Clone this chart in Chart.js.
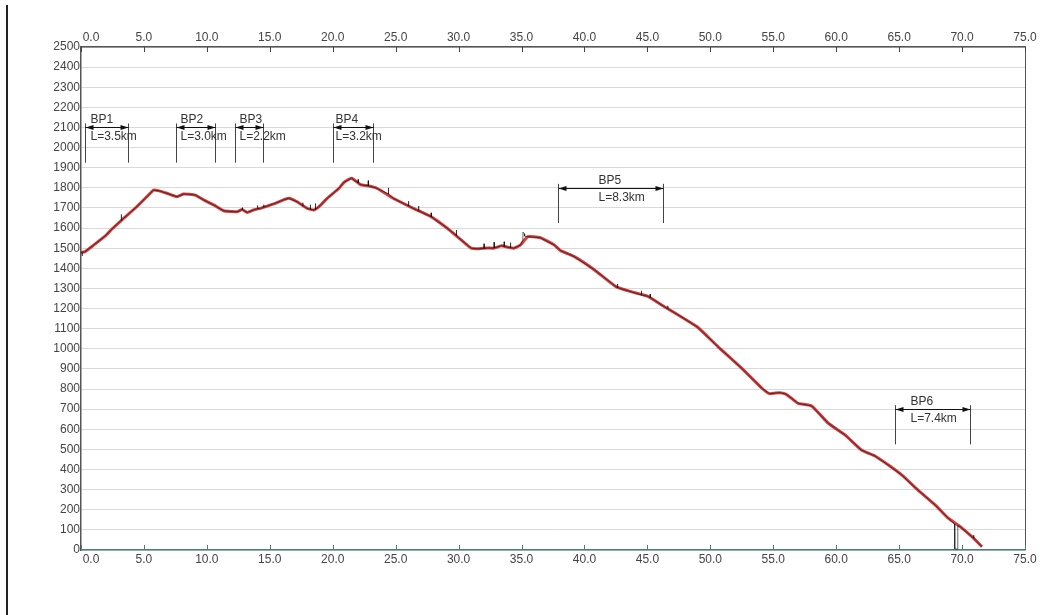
<!DOCTYPE html>
<html>
<head>
<meta charset="utf-8">
<script src="https://cdn.jsdelivr.net/npm/chart.js@4.4.1/dist/chart.umd.min.js"></script>
<style>
  html, body { margin: 0; padding: 0; background: #fff; }
  #wrap { position: relative; width: 1052px; height: 615px; }
</style>
</head>
<body>
<div id="wrap"><canvas id="c" width="1052" height="615"></canvas></div>
<script>
// ---- data (km, elevation m) ----
const profileKm = [0.0,0.3,1.0,2.0,2.44,3.24,4.43,5.3,5.76,6.2,6.82,7.62,8.15,8.6,9.08,9.74,10.54,11.33,12.0,12.4,12.8,13.2,13.7,14.25,15.3,16.0,16.5,17.17,17.97,18.5,19.0,19.56,20.5,20.9,21.5,22.2,22.8,23.5,24.8,26.4,27.8,29.1,30.2,31.0,31.6,32.3,32.8,33.4,33.9,34.4,34.9,35.5,36.5,37.6,38.1,39.2,40.8,42.5,43.7,45.0,46.35,47.9,49.0,50.6,52.5,54.1,54.7,55.5,56.0,56.45,56.98,58.05,59.37,60.7,62.0,63.08,64.15,65.2,66.5,67.86,68.9,69.85,70.78,71.58];
const profileElev = [1480,1482,1515,1565,1594,1640,1706,1760,1789,1785,1773,1756,1769,1768,1764,1740,1715,1686,1682,1681,1692,1678,1690,1698,1720,1738,1748,1731,1698,1690,1712,1748,1798,1828,1848,1816,1810,1798,1748,1698,1657,1599,1541,1500,1497,1501,1500,1512,1505,1500,1515,1557,1552,1516,1488,1458,1392,1309,1284,1262,1209,1151,1107,1011,903,804,777,782,775,754,729,716,630,572,497,467,422,373,298,224,158,116,66,16];

// raw measured profile (black), with its spikes
const rawKm = [0.0,0.08,0.1,0.12,0.3,1.0,2.0,2.44,3.18,3.2,3.22,4.43,5.3,5.76,6.2,6.82,7.62,8.15,8.6,9.08,9.74,10.54,11.33,12.0,12.4,12.8,12.82,12.84,13.2,13.7,14.0,14.02,14.04,14.25,14.5,14.52,14.54,15.3,16.0,16.5,17.17,17.6,17.62,17.64,17.97,18.2,18.22,18.24,18.5,18.6,18.62,18.64,19.0,19.56,20.5,20.9,21.5,22.0,22.02,22.04,22.2,22.8,22.82,22.84,23.5,24.4,24.42,24.44,24.8,26.0,26.02,26.04,26.4,26.8,26.82,26.84,27.8,27.82,27.84,29.1,29.8,29.82,29.84,30.2,31.0,31.6,32.0,32.02,32.04,32.3,32.8,32.82,32.84,33.4,33.6,33.62,33.64,33.9,34.1,34.12,34.14,34.4,34.9,35.1,35.12,35.2,35.25,35.5,36.5,37.6,38.1,39.2,40.8,42.5,42.6,42.62,42.64,43.7,44.5,44.52,44.54,45.0,45.2,45.22,45.24,46.35,46.6,46.62,46.64,47.9,49.0,50.6,52.5,54.1,54.7,55.5,56.0,56.45,56.98,58.05,59.37,60.7,62.0,63.08,64.15,65.2,66.5,67.86,68.9,69.4,69.42,69.64,69.66,69.85,70.78,70.9,70.92,70.94,71.58];
const rawElev = [1480,1478,1462,1479,1482,1515,1565,1594,1637,1668,1639,1706,1760,1789,1785,1773,1756,1769,1768,1764,1740,1715,1686,1682,1681,1692,1702,1691,1678,1690,1695,1712,1696,1698,1703,1716,1704,1720,1738,1748,1731,1712,1726,1711,1698,1694,1716,1693,1690,1692,1722,1693,1712,1748,1798,1828,1848,1825,1842,1824,1816,1810,1836,1809,1798,1770,1800,1769,1748,1711,1734,1710,1698,1686,1710,1685,1657,1676,1656,1599,1564,1590,1562,1541,1500,1497,1499,1522,1499,1501,1500,1530,1501,1512,1509,1532,1508,1505,1502,1528,1502,1500,1515,1540,1580,1572,1560,1557,1552,1516,1488,1458,1392,1309,1305,1322,1304,1284,1268,1288,1267,1262,1255,1272,1254,1209,1199,1214,1198,1151,1107,1011,903,804,777,782,775,754,729,716,630,572,497,467,422,373,298,224,158,130,5,5,122,116,66,60,74,59,16];

// x axis tick labels (km) and y ticks
const xTickValues = [0,5,10,15,20,25,30,35,40,45,50,55,60,65,70,75];
const yTickValues = [0,100,200,300,400,500,600,700,800,900,1000,1100,1200,1300,1400,1500,1600,1700,1800,1900,2000,2100,2200,2300,2400,2500];

// break-point sections
const bpNames   = ['BP1','BP2','BP3','BP4','BP5','BP6'];
const bpLengths = ['L=3.5km','L=3.0km','L=2.2km','L=3.2km','L=8.3km','L=7.4km'];
const bpStartKm = [0.32, 7.56, 12.2, 20.0, 37.9, 64.7];
const bpEndKm   = [3.77, 10.67, 14.47, 23.2, 46.2, 70.6];
const bpLevel   = [2100, 2100, 2100, 2100, 1800, 700];

const FONT = '"Liberation Sans", Arial, Helvetica, sans-serif';

const toPts = (xs, ys) => xs.map((x, i) => ({ x: x, y: ys[i] }));

const decor = {
  id: 'decor',
  beforeDraw(chart) {
    const ctx = chart.ctx;
    ctx.save();
    ctx.fillStyle = '#fff';
    ctx.fillRect(0, 0, chart.width, chart.height);
    ctx.fillStyle = '#222';
    ctx.fillRect(6, 5, 2, chart.height - 5);
    ctx.restore();
  },
  afterDatasetsDraw(chart) {
    const ctx = chart.ctx;
    const xs = chart.scales.x, ys = chart.scales.y, xt = chart.scales.x2;
    const a = chart.chartArea;
    ctx.save();
    // right border
    ctx.strokeStyle = '#555';
    ctx.lineWidth = 1;
    ctx.beginPath();
    ctx.moveTo(Math.round(a.right) + 0.5, a.top);
    ctx.lineTo(Math.round(a.right) + 0.5, a.bottom);
    ctx.stroke();
    // inner ticks
    xs.ticks.forEach(t => {
      const px = Math.round(xs.getPixelForValue(t.value)) + 0.5;
      ctx.strokeStyle = '#4f7f74';
      ctx.beginPath(); ctx.moveTo(px, a.bottom); ctx.lineTo(px, a.bottom - 5); ctx.stroke();
    });
    xt.ticks.forEach(t => {
      const px = Math.round(xt.getPixelForValue(t.value)) + 0.5;
      ctx.strokeStyle = '#444';
      ctx.beginPath(); ctx.moveTo(px, a.top); ctx.lineTo(px, a.top + 5); ctx.stroke();
    });
    // BP brackets
    const labelOffsetPx = [5, 4, 4, 2, 40, 15];
    ctx.font = '12px ' + FONT;
    ctx.textBaseline = 'middle';
    ctx.textAlign = 'left';
    for (let i = 0; i < bpNames.length; i++) {
      const x1 = Math.round(xs.getPixelForValue(bpStartKm[i])) + 0.5;
      const x2 = Math.round(xs.getPixelForValue(bpEndKm[i])) + 0.5;
      const yl = Math.round(ys.getPixelForValue(bpLevel[i])) + 0.5;
      const yTop = ys.getPixelForValue(bpLevel[i] + 20);
      const yBot = ys.getPixelForValue(bpLevel[i] - 175);
      ctx.strokeStyle = '#444';
      ctx.lineWidth = 1;
      ctx.beginPath();
      ctx.moveTo(x1, yTop); ctx.lineTo(x1, yBot);
      ctx.moveTo(x2, yTop); ctx.lineTo(x2, yBot);
      ctx.stroke();
      ctx.strokeStyle = '#111';
      ctx.beginPath(); ctx.moveTo(x1, yl); ctx.lineTo(x2, yl); ctx.stroke();
      ctx.fillStyle = '#111';
      ctx.beginPath();
      ctx.moveTo(x1, yl); ctx.lineTo(x1 + 8, yl - 2.5); ctx.lineTo(x1 + 8, yl + 2.5); ctx.closePath(); ctx.fill();
      ctx.beginPath();
      ctx.moveTo(x2, yl); ctx.lineTo(x2 - 8, yl - 2.5); ctx.lineTo(x2 - 8, yl + 2.5); ctx.closePath(); ctx.fill();
      ctx.fillStyle = '#333';
      ctx.fillText(bpNames[i], x1 + labelOffsetPx[i], yl - 8);
      ctx.fillText(bpLengths[i], x1 + labelOffsetPx[i], yl + 9);
    }
    ctx.restore();
  }
};

const xLabel = v => (v === 0 ? '\u2007\u2007\u20070.0' : Number(v).toFixed(1));

new Chart(document.getElementById('c'), {
  type: 'line',
  data: {
    datasets: [
      {
        label: 'raw',
        data: toPts(rawKm, rawElev),
        borderColor: 'rgba(10,10,10,0.6)',
        borderWidth: 1,
        pointRadius: 0,
        tension: 0,
        order: 0
      },
      {
        label: 'profile',
        data: toPts(profileKm, profileElev),
        borderColor: 'rgba(205,45,45,0.9)',
        borderWidth: 3,
        pointRadius: 0,
        tension: 0.15,
        order: 1
      }
    ]
  },
  plugins: [decor],
  options: {
    responsive: false,
    animation: false,
    layout: { padding: { left: 0, right: 27, top: 0, bottom: 0 } },
    plugins: { legend: { display: false }, tooltip: { enabled: false } },
    scales: {
      x: {
        type: 'linear', position: 'bottom', min: 0, max: 75,
        afterBuildTicks: s => { s.ticks = xTickValues.map(v => ({ value: v })); },
        afterFit: s => { s.height = 65; },
        ticks: { callback: xLabel, autoSkip: false, maxRotation: 0, padding: 2, color: '#444', font: { family: FONT, size: 12 } },
        grid: { drawOnChartArea: false, drawTicks: false },
        border: { color: '#4f7f74', width: 1.5 }
      },
      x2: {
        type: 'linear', position: 'top', min: 0, max: 75,
        afterBuildTicks: s => { s.ticks = xTickValues.map(v => ({ value: v })); },
        afterFit: s => { s.height = 47; },
        ticks: { callback: xLabel, autoSkip: false, maxRotation: 0, padding: 2, color: '#444', font: { family: FONT, size: 12 } },
        grid: { drawOnChartArea: false, drawTicks: false },
        border: { color: '#555', width: 1.5 }
      },
      y: {
        type: 'linear', min: 0, max: 2500,
        afterBuildTicks: s => { s.ticks = yTickValues.map(v => ({ value: v })); },
        afterFit: s => { s.width = 81; },
        ticks: { callback: v => String(v), autoSkip: false, padding: 1, color: '#444', font: { family: FONT, size: 12 } },
        grid: { color: '#d9d9d9', drawTicks: false, lineWidth: 1 },
        border: { color: '#555', width: 1.5 }
      }
    }
  }
});
</script>
</body>
</html>
